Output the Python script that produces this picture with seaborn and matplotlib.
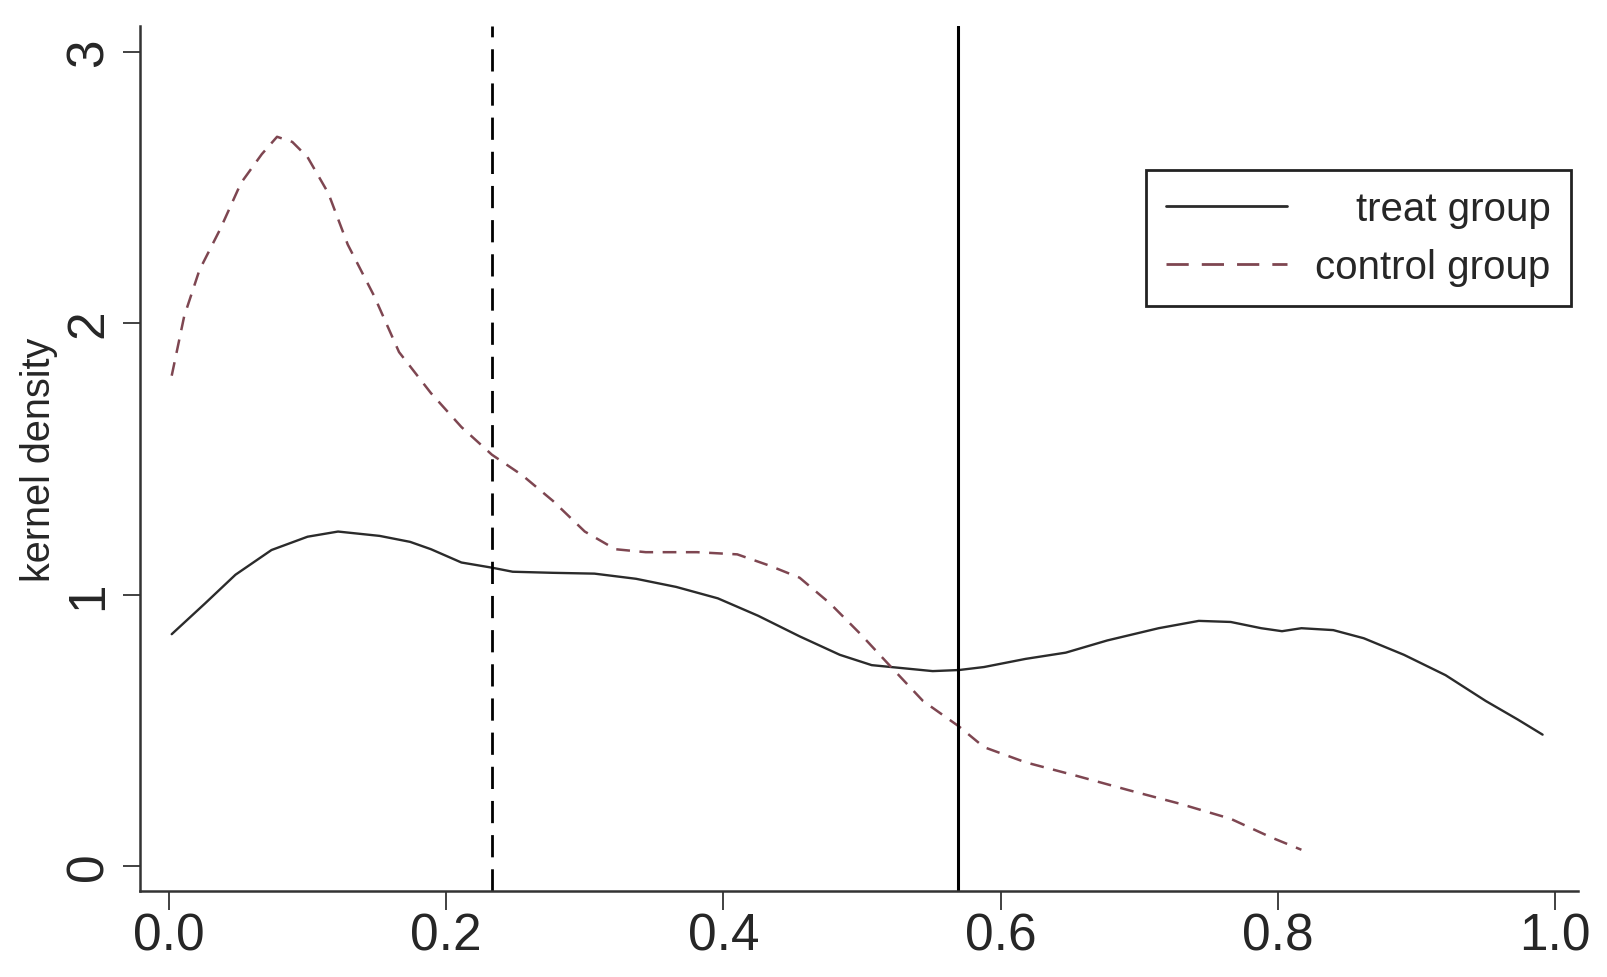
import numpy as np
import pandas as pd
import matplotlib
matplotlib.use("Agg")
import matplotlib.pyplot as plt
import seaborn as sns

# kernel density curves
x_treat = [0.002, 0.026, 0.048, 0.074, 0.100, 0.122, 0.152, 0.174, 0.189, 0.211,
           0.233, 0.248, 0.277, 0.307, 0.337, 0.366, 0.396, 0.425, 0.455, 0.484,
           0.507, 0.529, 0.551, 0.570, 0.588, 0.618, 0.647, 0.677, 0.714, 0.743,
           0.766, 0.788, 0.803, 0.817, 0.840, 0.862, 0.891, 0.921, 0.950, 0.973, 0.991]
y_treat = [0.854, 0.967, 1.073, 1.164, 1.213, 1.232, 1.216, 1.194, 1.167, 1.118,
           1.099, 1.084, 1.080, 1.077, 1.058, 1.028, 0.986, 0.922, 0.846, 0.778,
           0.740, 0.729, 0.718, 0.722, 0.733, 0.763, 0.786, 0.831, 0.876, 0.903,
           0.899, 0.876, 0.865, 0.876, 0.869, 0.839, 0.778, 0.703, 0.608, 0.540, 0.484]

x_control = [0.002, 0.011, 0.022, 0.037, 0.052, 0.067, 0.078, 0.089, 0.100, 0.115,
             0.129, 0.148, 0.166, 0.189, 0.211, 0.233, 0.255, 0.277, 0.300, 0.322,
             0.344, 0.381, 0.410, 0.433, 0.455, 0.477, 0.499, 0.521, 0.544, 0.570,
             0.588, 0.618, 0.655, 0.692, 0.729, 0.766, 0.795, 0.817]
y_control = [1.806, 2.025, 2.195, 2.346, 2.516, 2.622, 2.686, 2.667, 2.611, 2.478,
             2.289, 2.100, 1.893, 1.742, 1.617, 1.515, 1.439, 1.345, 1.232, 1.167,
             1.156, 1.156, 1.148, 1.107, 1.062, 0.967, 0.854, 0.733, 0.608, 0.514,
             0.438, 0.382, 0.332, 0.280, 0.230, 0.174, 0.106, 0.060]

treat_mean = 0.569
control_mean = 0.233

x_ticks = [0.0, 0.2, 0.4, 0.6, 0.8, 1.0]
x_ticklabels = ["0.0", "0.2", "0.4", "0.6", "0.8", "1.0"]
y_ticks = [0, 1, 2, 3]
y_ticklabels = ["0", "1", "2", "3"]

sns.set_style("ticks")
plt.rcParams["font.family"] = ["Liberation Sans", "DejaVu Sans"]

fig = plt.figure(figsize=(16.07, 9.78), dpi=100)
ax = fig.add_axes([0.0871, 0.0879, 0.982 - 0.0871, 0.9724 - 0.0879])

sns.lineplot(x=x_treat, y=y_treat, ax=ax, color="#2b2b2b", linewidth=1.7,
             sort=False, label="treat group")
sns.lineplot(x=x_control, y=y_control, ax=ax, color="#7e4651", linewidth=1.8,
             linestyle=(0, (5.5, 3.8)), sort=False, label="control group")

ax.axvline(treat_mean, color="black", linewidth=2.2)
ax.axvline(control_mean, color="black", linewidth=2.0, linestyle=(0, (8, 4.3)))

ax.set_xlim(-0.0209, 1.0166)
ax.set_ylim(-0.092, 3.094)
ax.set_xticks(x_ticks)
ax.set_xticklabels(x_ticklabels, fontsize=37)
ax.set_yticks(y_ticks)
ax.set_yticklabels(y_ticklabels, fontsize=37, rotation=90, va="center")
ax.tick_params(axis="x", bottom=True, length=13.5, width=1.3, color="#333333",
               pad=1, direction="out")
ax.tick_params(axis="y", left=True, length=12, width=1.3, color="#333333",
               pad=7, direction="out")
ax.set_xlabel("")
ax.set_ylabel("kernel density", fontsize=28.5, labelpad=5)

for side in ["top", "right"]:
    ax.spines[side].set_visible(False)
for side in ["left", "bottom"]:
    ax.spines[side].set_linewidth(1.8)
    ax.spines[side].set_color("#333333")

handles, labels = ax.get_legend_handles_labels()
leg = ax.legend(handles=handles, labels=labels, loc="upper right",
                bbox_to_anchor=(0.9776, 0.8252), bbox_transform=fig.transFigure,
                borderaxespad=0, frameon=True, fancybox=False, framealpha=1,
                edgecolor="#222222", fontsize=29, handlelength=3.0,
                handletextpad=0.7, labelspacing=0.5, borderpad=0.5)
leg.get_frame().set_linewidth(2.0)
leg_lines = leg.get_lines()
leg_lines[0].set_linewidth(2.0)
leg_lines[1].set_linewidth(2.0)
leg_lines[1].set_linestyle((0, (8, 4.7)))

# right-align the legend labels like the original
fig.canvas.draw()
r = fig.canvas.get_renderer()
texts = leg.get_texts()
widths = [t.get_window_extent(r).width for t in texts]
for t, w in zip(texts, widths):
    t.set_x(max(widths) - w)

plt.savefig("out.png", dpi=100)
